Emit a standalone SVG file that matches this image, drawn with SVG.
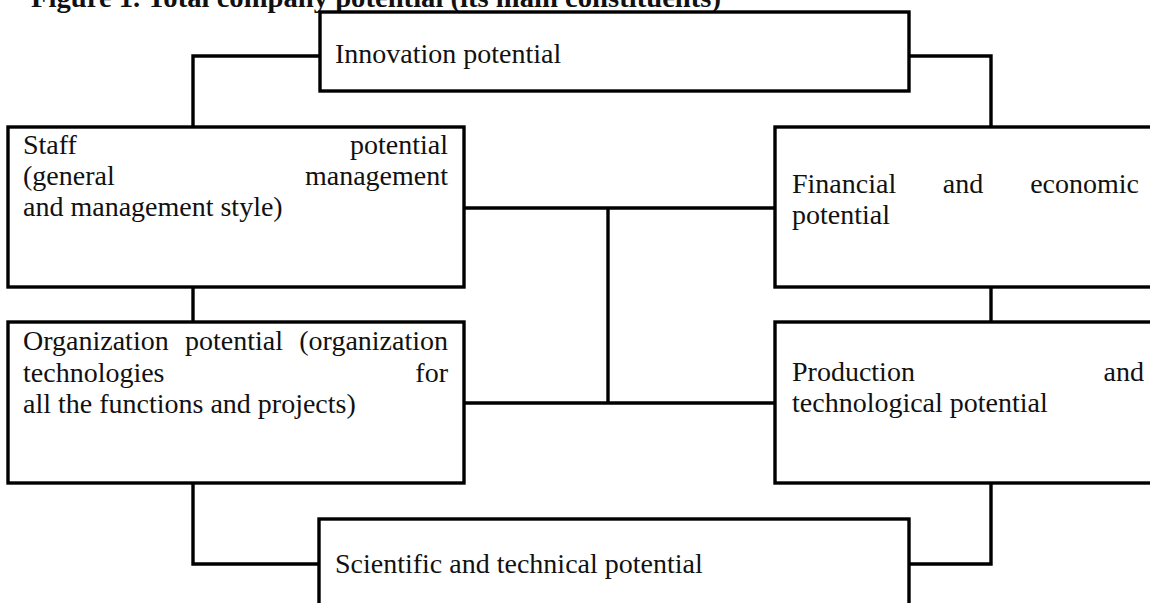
<svg xmlns="http://www.w3.org/2000/svg" width="1150" height="603" viewBox="0 0 1150 603">
<style>
  .box { fill: #fff; stroke: #000; stroke-width: 3.4; }
  .con { fill: none; stroke: #000; stroke-width: 3.4; }
  text { font-family: "Liberation Serif", "Times New Roman", serif; font-size: 28px; fill: #111; }
  .title { font-weight: bold; }
  .e { text-anchor: end; }
  .m { text-anchor: middle; }
</style>
<rect width="1150" height="603" fill="#fff"/>
<text class="title" x="31" y="7" textLength="690" lengthAdjust="spacingAndGlyphs">Figure 1. Total company potential (its main constituents)</text>
<g id="connectors">
  <path class="con" d="M320,56 H193 V127"/>
  <path class="con" d="M909,56 H991 V127"/>
  <path class="con" d="M193,287 V322"/>
  <path class="con" d="M991,287 V322"/>
  <path class="con" d="M464,208 H775"/>
  <path class="con" d="M464,403 H775"/>
  <path class="con" d="M608,208 V403"/>
  <path class="con" d="M193,483 V564 H319"/>
  <path class="con" d="M991,483 V564 H909"/>
</g>
<g id="innovation">
  <rect class="box" x="320" y="12" width="589" height="79"/>
  <text x="335" y="63">Innovation potential</text>
</g>
<g id="staff">
  <rect class="box" x="8" y="127" width="456" height="160"/>
  <text x="23" y="154">Staff</text>
  <text class="e" x="448" y="154">potential</text>
  <text x="23" y="185">(general</text>
  <text class="e" x="448" y="185">management</text>
  <text x="23" y="216">and management style)</text>
</g>
<g id="financial">
  <rect class="box" x="775" y="127" width="390" height="160"/>
  <text x="792" y="193">Financial</text>
  <text class="m" x="963" y="193">and</text>
  <text class="e" x="1139" y="193">economic</text>
  <text x="792" y="224">potential</text>
</g>
<g id="organization">
  <rect class="box" x="8" y="322" width="456" height="161"/>
  <text x="23" y="350">Organization</text>
  <text class="m" x="234" y="350">potential</text>
  <text class="e" x="448" y="350">(organization</text>
  <text x="23" y="381.5">technologies</text>
  <text class="e" x="448" y="381.5">for</text>
  <text x="23" y="413">all the functions and projects)</text>
</g>
<g id="production">
  <rect class="box" x="775" y="322" width="390" height="161"/>
  <text x="792" y="381">Production</text>
  <text class="e" x="1144" y="381">and</text>
  <text x="792" y="412">technological potential</text>
</g>
<g id="scientific">
  <rect class="box" x="319" y="519" width="590" height="100"/>
  <text x="335" y="573">Scientific and technical potential</text>
</g>
</svg>
